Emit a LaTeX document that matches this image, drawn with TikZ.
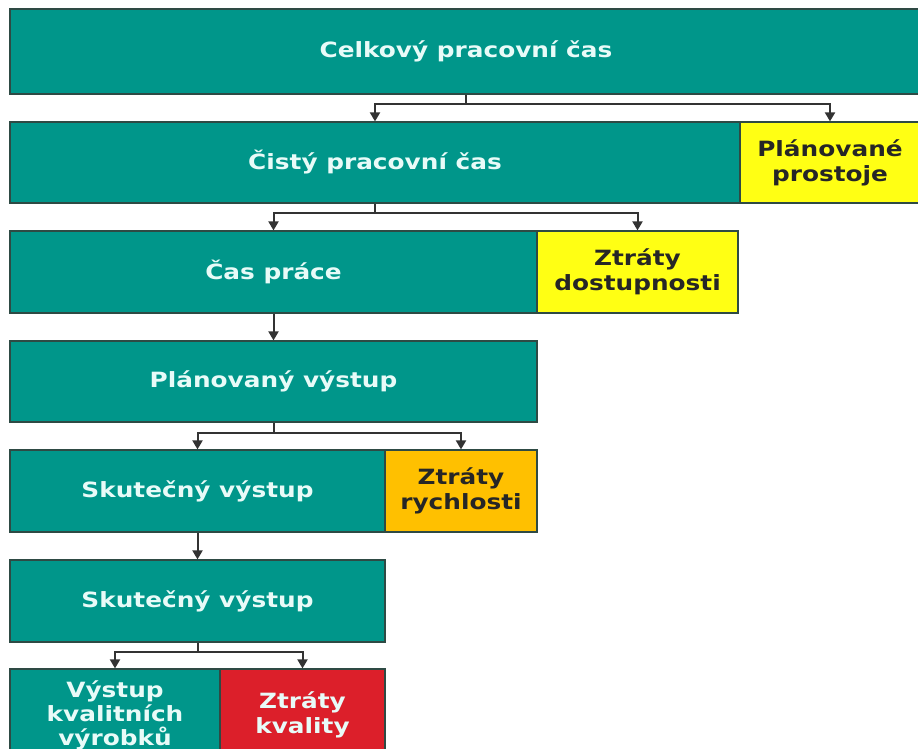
\documentclass[tikz,border=0pt]{standalone}
\usepackage{fontspec}
\setmainfont{DejaVu Sans}[FakeStretch=1.18]
\usetikzlibrary{arrows.meta}
\definecolor{tealfill}{HTML}{00968A}
\definecolor{tealtext}{HTML}{E8FBF8}
\definecolor{edgecol}{HTML}{2E4A44}
\definecolor{yellowfill}{HTML}{FFFF14}
\definecolor{orangefill}{HTML}{FFC000}
\definecolor{redfill}{HTML}{DC1F2A}
\definecolor{linecol}{HTML}{333333}
\tikzset{
  box/.style={rectangle, draw=edgecol, line width=1.2pt, inner sep=0pt,
    align=center, font=\bfseries\fontsize{21}{25}\selectfont},
  tealbox/.style={box, fill=tealfill, text=tealtext},
  yellowbox/.style={box, fill=yellowfill, text=black!85},
  orangebox/.style={box, fill=orangefill, text=black!85},
  redbox/.style={box, fill=redfill, text=tealtext},
  link/.style={draw=linecol, line width=2pt},
  arrowlink/.style={link, -{Triangle[length=9pt,width=10pt]}},
}
\begin{document}
\begin{tikzpicture}[x=1pt,y=-1pt]
\useasboundingbox (0,0) rectangle (918,749);

% level 1
\node[tealbox, minimum width=912pt, minimum height=85pt] (total) at (466,51.5) {Celkový pracovní čas};
% level 2
\node[tealbox, minimum width=730pt, minimum height=81pt] (net) at (375,162.5) {Čistý pracovní čas};
\node[yellowbox, minimum width=180pt, minimum height=81pt] (planned) at (830,162.5) {Plánované\\prostoje};
% level 3
\node[tealbox, minimum width=527pt, minimum height=82pt] (work) at (273.5,272) {Čas práce};
\node[yellowbox, minimum width=201pt, minimum height=82pt] (avail) at (637.5,272) {Ztráty\\dostupnosti};
% level 4
\node[tealbox, minimum width=527pt, minimum height=81pt] (plan) at (273.5,381.5) {Plánovaný výstup};
% level 5
\node[tealbox, minimum width=375pt, minimum height=82pt] (actual) at (197.5,491) {Skutečný výstup};
\node[orangebox, minimum width=152pt, minimum height=82pt] (speed) at (461,491) {Ztráty\\rychlosti};
% level 6
\node[tealbox, minimum width=375pt, minimum height=82pt] (actual2) at (197.5,601) {Skutečný výstup};
% level 7 (runs past the lower edge)
\node[tealbox, minimum width=210pt, minimum height=92pt, font=\bfseries\fontsize{21}{24}\selectfont] (good) at (115,715) {Výstup\\kvalitních\\výrobků};
\node[redbox, minimum width=165pt, minimum height=92pt] (quality) at (302.5,715) {Ztráty\\kvality};

% junction points of the split connectors
\coordinate (j1) at (total.south |- 0,104);
\coordinate (j2) at (net.south |- 0,213);
\coordinate (j4) at (plan.south |- 0,433);
\coordinate (j6) at (actual2.south |- 0,652);

\draw[link] (total.south) -- (j1);
\draw[arrowlink] (j1) -| (net.north);
\draw[arrowlink] (j1) -| (planned.north);

\draw[link] (net.south) -- (j2);
\draw[arrowlink] (j2) -| (work.north);
\draw[arrowlink] (j2) -| (avail.north);

\draw[arrowlink] (work.south) -- (plan.north);

\draw[link] (plan.south) -- (j4);
\draw[arrowlink] (j4) -| (actual.north);
\draw[arrowlink] (j4) -| (speed.north);

\draw[arrowlink] (actual.south) -- (actual2.north);

\draw[link] (actual2.south) -- (j6);
\draw[arrowlink] (j6) -| (good.north);
\draw[arrowlink] (j6) -| (quality.north);
\end{tikzpicture}
\end{document}
